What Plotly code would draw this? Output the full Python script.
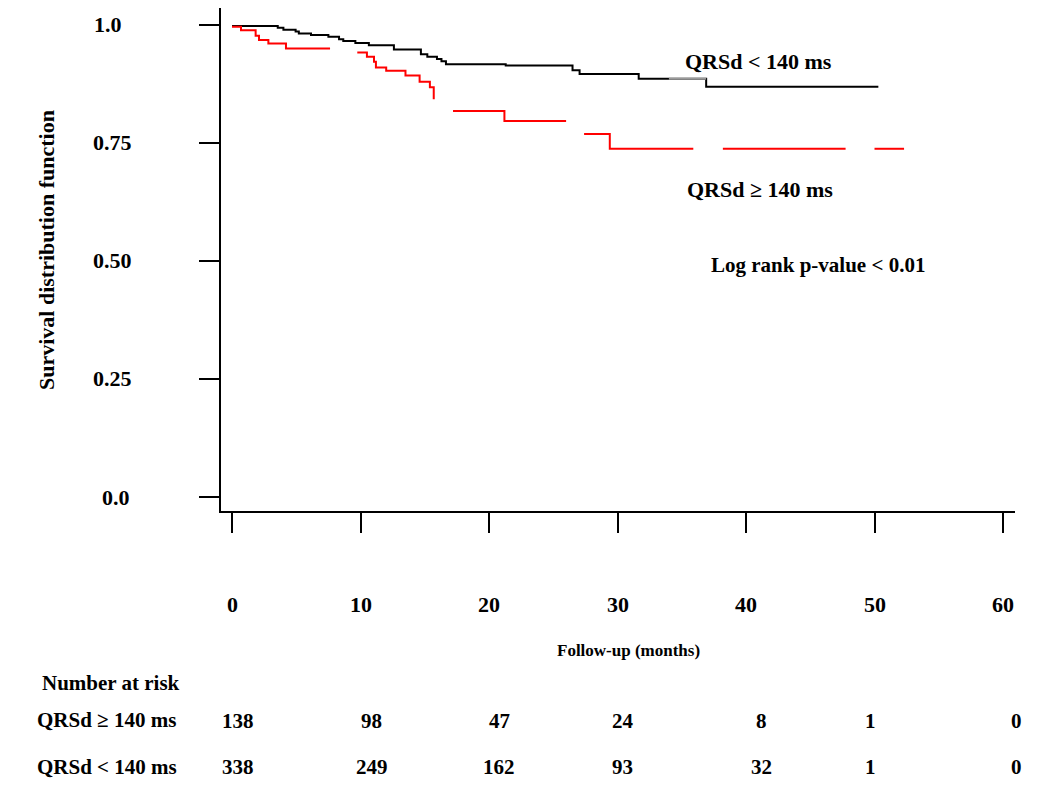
import plotly.graph_objects as go

# ---------------- data ----------------
# QRSd < 140 ms (black Kaplan-Meier curve): step times (months) and survival after each step
black_time = [0, 3.56, 4.0, 4.95, 5.2, 6.15, 7.5, 8.33, 8.66, 9.6, 10.65, 12.6, 14.7,
              15.2, 15.95, 16.3, 16.65, 21.3, 26.5, 27.05, 31.65, 36.9, 50.3]
black_surv = [0.997, 0.993, 0.989, 0.985, 0.981, 0.978, 0.974, 0.969, 0.965, 0.961, 0.956,
              0.947, 0.937, 0.932, 0.927, 0.922, 0.916, 0.913, 0.903, 0.895, 0.885, 0.868, 0.868]
# lighter (grey) rendered piece of the black curve
grey_time = [34.0, 36.9]
grey_surv = [0.885, 0.885]

# QRSd >= 140 ms (red curve) - drawn in pieces (None = gap in the original drawing)
red_time = [0, 0.7, 1.84, 2.1, 2.83, 4.2, 7.63, None,
            9.75, 10.5, 11.05, 11.2, 12.0, 13.5, 14.6, 15.4, 15.7, None,
            17.2, 21.2, 26.0, None,
            27.4, 29.4, 35.9, None,
            38.2, 47.75, None,
            50.0, 52.3]
red_surv = [0.995, 0.988, 0.976, 0.967, 0.96, 0.949, 0.949, None,
            0.941, 0.932, 0.921, 0.909, 0.902, 0.892, 0.879, 0.867, 0.842, None,
            0.817, 0.796, 0.796, None,
            0.768, 0.737, 0.737, None,
            0.737, 0.737, None,
            0.737, 0.737]

x_ticks = [0, 10, 20, 30, 40, 50, 60]
y_ticks = [0.0, 0.25, 0.50, 0.75, 1.0]
y_tick_labels = ["0.0", "0.25", "0.50", "0.75", "1.0"]

risk_labels = ["QRSd \u2265 140 ms", "QRSd < 140 ms"]
risk_wide = [138, 98, 47, 24, 8, 1, 0]
risk_narrow = [338, 249, 162, 93, 32, 1, 0]

# ---------------- layout geometry (pixels) ----------------
OFF = 8                       # page body margin in the browser
W, H = 1050 - 2 * OFF, 799 - 2 * OFF
L = 221 - OFF                 # y-axis line at page x = 221
T = 8 - OFF                   # plot top at page y = 8
R = W - (1015 - OFF)          # plot right at page x = 1015
B = H - (511 - OFF)           # x-axis line at page y = 511
PW, PH = W - L - R, H - T - B


def px(xp):  # page x pixel -> paper
    return (xp - OFF - L) / PW


def py(yp):  # page y pixel -> paper
    return (H - B - (yp - OFF)) / PH


FONT = "Liberation Serif, Times New Roman, serif"


def txt(text, x, y, size=22, xanchor="center", yanchor="middle", xref="paper", yref="paper",
        xshift=0, textangle=0):
    return dict(text=text, x=x, y=y, xref=xref, yref=yref, showarrow=False,
                xanchor=xanchor, yanchor=yanchor, xshift=xshift, textangle=textangle,
                font=dict(family=FONT, size=size, color="black", weight="bold"))


fig = go.Figure()
fig.add_trace(go.Scatter(x=black_time, y=black_surv, mode="lines", line_shape="hv",
                         line=dict(color="black", width=2), name="QRSd < 140 ms",
                         showlegend=False))
fig.add_trace(go.Scatter(x=grey_time, y=grey_surv, mode="lines",
                         line=dict(color="#9a9a9a", width=2), showlegend=False))
fig.add_trace(go.Scatter(x=red_time, y=red_surv, mode="lines", line_shape="hv",
                         connectgaps=False,
                         line=dict(color="#ff0000", width=2), name="QRSd \u2265 140 ms",
                         showlegend=False))

ann = []
# x tick labels
for t in x_ticks:
    ann.append(txt(str(t), t, py(604), xref="x"))
# y tick labels
ylab_centers = {"0.0": 116, "0.25": 113, "0.50": 113, "0.75": 113, "1.0": 108}
for v, lab in zip(y_ticks, y_tick_labels):
    ann.append(txt(lab, px(ylab_centers[lab]), v, yref="y"))

ann.append(txt("Survival distribution function", px(46), py(250), textangle=-90))
ann.append(txt("Follow-up (months)", px(628), py(650), size=17))
ann.append(txt("QRSd < 140 ms", px(758), py(61)))
ann.append(txt("QRSd \u2265 140 ms", px(760), py(190)))
ann.append(txt("Log rank p-value < 0.01", px(818), py(265), size=21))

# number at risk table
ann.append(txt("Number at risk", px(40), py(683), size=21, xanchor="left"))
ann.append(txt(risk_labels[0], px(35), py(720), size=21, xanchor="left"))
ann.append(txt(risk_labels[1], px(35), py(767), size=21, xanchor="left"))
col_shift = [6, 11, 10, 5, 15, -4, 13]
for t, n, s in zip(x_ticks, risk_wide, col_shift):
    ann.append(txt(str(n), t, py(721), size=21, xref="x", xshift=s))
for t, n, s in zip(x_ticks, risk_narrow, col_shift):
    ann.append(txt(str(n), t, py(767), size=21, xref="x", xshift=s))

x_lo = (221 - 232) / 12.85
x_hi = (1015 - 232) / 12.85
y_lo = (497 - 511) / 472.5
y_hi = (497 - 8) / 472.5

fig.update_layout(
    width=W, height=H,
    margin=dict(l=L, r=R, t=T, b=B, pad=0),
    paper_bgcolor="white", plot_bgcolor="white",
    annotations=ann,
    xaxis=dict(range=[x_lo, x_hi], tickvals=x_ticks, showticklabels=False,
               ticks="outside", ticklen=20, tickwidth=1.5, tickcolor="black",
               showline=True, linecolor="black", linewidth=1.5,
               showgrid=False, zeroline=False, fixedrange=True),
    yaxis=dict(range=[y_lo, y_hi], tickvals=y_ticks, showticklabels=False,
               ticks="outside", ticklen=20, tickwidth=1.5, tickcolor="black",
               showline=True, linecolor="black", linewidth=1.5,
               showgrid=False, zeroline=False, fixedrange=True),
)

fig.write_html("out.html")
